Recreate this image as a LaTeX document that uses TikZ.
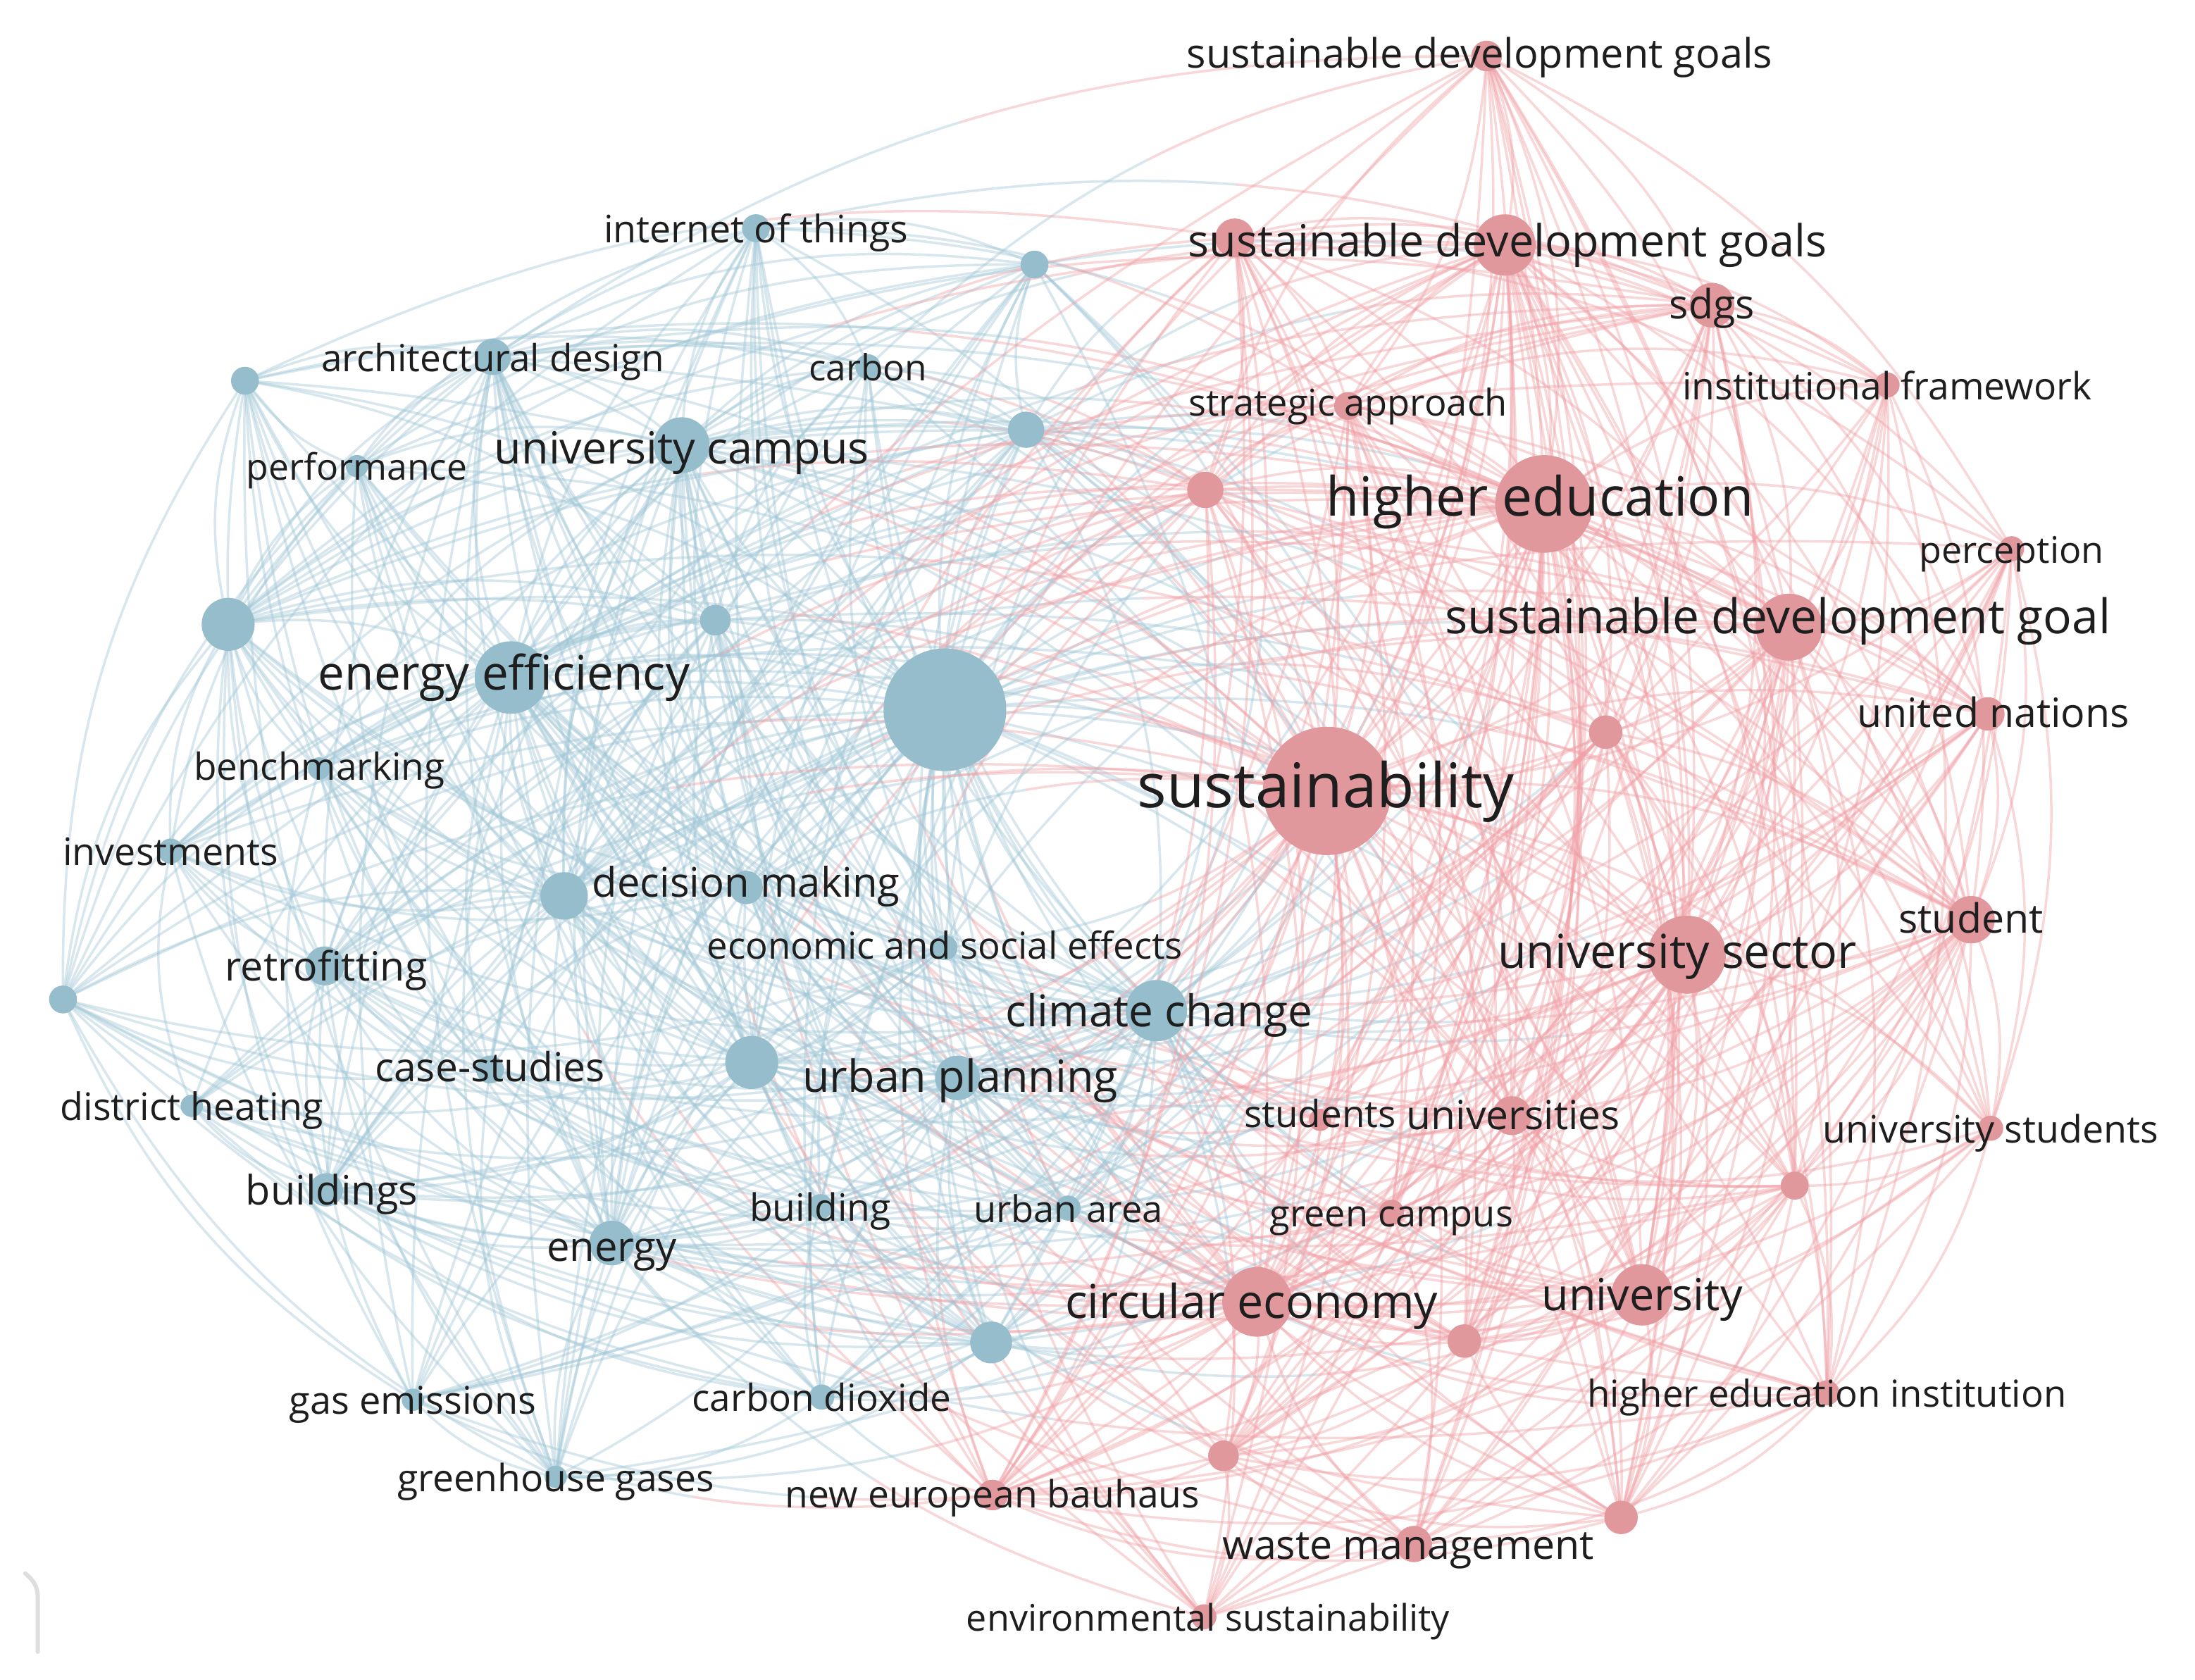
\documentclass[tikz,border=0pt]{standalone}
\usepackage{fontspec}
\setmainfont{Open Sans}
\definecolor{bnode}{RGB}{150,189,203}
\definecolor{rnode}{RGB}{225,152,157}
\definecolor{bedge}{RGB}{160,198,214}
\definecolor{redge}{RGB}{240,160,166}
\definecolor{labc}{RGB}{30,30,30}
\tikzset{
  edge/.style={line width=1.0pt, draw opacity=0.42},
  kwnode/.style={circle, inner sep=0pt, draw=none},
  lab/.style={text=labc, inner sep=0pt, text height=0.75em, text depth=0.2em}
}
\def\X{{540,739,352,620,175,255,487,733,163,511,365,675,228,122,403,533,675,232,45,826,350,537,684,137,233,586,763,437,708,295,587,397,1062,882,1075,1223,963,1348,861,1103,1437,1278,1420,1147,948,1408,1205,943,1080,1422,1282,994,898,1173,1046,1305,874,709,1158,1010,860}}
\def\Y{{163,189,255,262,272,333,318,307,446,443,484,507,549,608,640,634,677,690,714,722,764,759,770,790,850,862,863,888,959,1000,998,1055,40,170,175,218,290,275,350,360,392,448,510,523,565,657,682,800,797,806,847,866,930,925,958,995,1040,1068,1084,1103,1155}}
\def\R{{10,10,13,9,10,8,20,13,19,11,26,44,8,9,17,12,9,14,10,22,10,19,16,8,12,9,9,16,15,8,9,8,11,14,22,16,10,9,13,35,9,24,12,12,46,17,28,8,14,9,10,9,25,22,12,9,11,11,12,13,9}}
\def\C{{0,0,0,0,0,0,0,0,0,0,0,0,0,0,0,0,0,0,0,0,0,0,0,0,0,0,0,0,0,0,0,0,1,1,1,1,1,1,1,1,1,1,1,1,1,1,1,1,1,1,1,1,1,1,1,1,1,1,1,1,1}}
\begin{document}
\begin{tikzpicture}[x=0.02cm,y=-0.02cm]
\fill[white] (0,0) rectangle (1568,1200);
\useasboundingbox (0,0) rectangle (1568,1200);
% node centres
\foreach \i in {0,...,60} {
  \pgfmathsetmacro\xx{\X[\i]}
  \pgfmathsetmacro\yy{\Y[\i]}
  \coordinate (n\i) at (\xx,\yy);
}
% connectors
\pgfmathsetseed{12}
\foreach \i in {0,...,59} {
  \pgfmathtruncatemacro\ip{\i+1}
  \foreach \j in {\ip,...,60} {
    \pgfmathsetmacro\xa{\X[\i]}
    \pgfmathsetmacro\ya{\Y[\i]}
    \pgfmathsetmacro\xb{\X[\j]}
    \pgfmathsetmacro\yb{\Y[\j]}
    \pgfmathsetmacro\ra{\R[\i]}
    \pgfmathsetmacro\rb{\R[\j]}
    \pgfmathtruncatemacro\ca{\C[\i]}
    \pgfmathtruncatemacro\cb{\C[\j]}
    \pgfmathtruncatemacro\cs{\ca+\cb}
    \pgfmathsetmacro\dd{veclen((\xb-\xa)/10,(\yb-\ya)/10)*10}
    \pgfmathsetmacro\pp{\ra*\rb/200*max(0.25,1-\dd/1700)*(\cs==1 ? 0.55 : 1)}
    \pgfmathsetmacro\uu{rnd}
    \pgfmathsetmacro\vv{rnd}
    \ifdim\uu pt<\pp pt
      \pgfmathsetmacro\cr{((\xb-\xa)/100)*((600-\ya)/100)-((\yb-\ya)/100)*((780-\xa)/100)}
      \pgfmathsetmacro\bb{\cr>0 ? 17 : -17}
      \ifcase\cs
        \draw[edge, draw=bedge] (n\i) to[bend left=\bb] (n\j);
      \or
        \pgfmathsetmacro\hl{\dd*0.5669*1.015/2}
        \draw[edge, draw=bedge, dash pattern=on \hl pt off \hl pt] (n\i) to[bend left=\bb] (n\j);
        \draw[edge, draw=redge, dash pattern=on \hl pt off \hl pt, dash phase=\hl pt] (n\i) to[bend left=\bb] (n\j);
      \or
        \draw[edge, draw=redge] (n\i) to[bend left=\bb] (n\j);
      \fi
    \fi
  }
}
% nodes
\foreach \i in {0,...,60} {
  \pgfmathsetmacro\rr{\R[\i]*2*0.5669}
  \pgfmathtruncatemacro\cc{\C[\i]}
  \ifnum\cc=0 \def\nc{bnode}\else\def\nc{rnode}\fi
  \node[kwnode, fill=\nc, minimum size=\rr pt] (k\i) at (n\i) {};
}
% labels
\foreach \i/\f/\dx/\dy/\t in {
  0/15.4/0/0/internet of things,
  2/15.2/0/0/architectural design,
  3/14.7/0/0/carbon,
  5/14.8/0/0/performance,
  6/18/0/2/university campus,
  10/19.3/-5/-3/energy efficiency,
  12/15.2/0/-2/benchmarking,
  13/15.4/0/0/investments,
  15/16.6/0/-4/decision making,
  16/15.1/0/-2/economic and social effects,
  17/16.4/1/0/retrofitting,
  19/17.8/2/0/climate change,
  20/16.3/0/-2/case-studies,
  22/18/2/-1/urban planning,
  23/15.4/0/0/district heating,
  24/16.5/4/0/buildings,
  25/15.3/0/0/building,
  26/15/0/0/urban area,
  27/16.6/0/2/energy,
  29/15.5/0/0/gas emissions,
  30/15.2/0/0/carbon dioxide,
  31/15.3/0/0/greenhouse gases,
  32/16.5/-5/-2/sustainable development goals,
  34/18/2/-3/sustainable development goals,
  35/16.4/0/-1/sdgs,
  36/15/0/-3/strategic approach,
  37/15.3/0/0/institutional framework,
  39/22/-3/-4/higher education,
  40/14.9/0/0/perception,
  41/19.4/-8/-7/sustainable development goal,
  42/16.4/4/-1/united nations,
  44/25/-1/-2/sustainability,
  45/16.4/0/-1/student,
  46/19/-7/-2/university sector,
  47/15.2/0/-5/students,
  48/16.3/1/-1/universities,
  49/15.4/0/0/university students,
  51/15/0/0/green campus,
  52/19/-4/0/circular economy,
  53/18/0/0/university,
  55/15.1/0/0/higher education institution,
  57/15.3/0/-1/new european bauhaus,
  59/16.4/-4/0/waste management,
  60/14.9/3/0/environmental sustainability} {
  \pgfmathsetmacro\ddy{\dy+0.36*\f}
  \node[lab, font=\fontsize{\f}{\f}\selectfont] (l\i) at ([shift={(\dx,\ddy)}]n\i) {\t};
}
% small grey mark at lower left
\draw[black!13, line width=1.7pt, line cap=round] (18,1124) .. controls (24,1129) and (27,1133) .. (27,1142) -- (27,1180);
\end{tikzpicture}
\end{document}
